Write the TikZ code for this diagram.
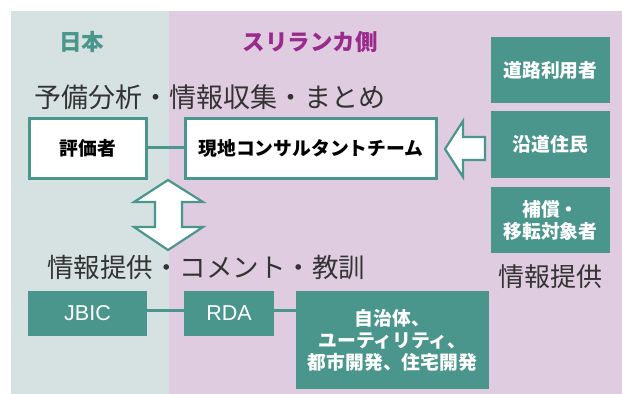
\documentclass[tikz,border=0pt]{standalone}
\usepackage{fontspec}
\setmainfont{Noto Sans CJK JP}
\newfontfamily\latinfont{Liberation Sans}
\definecolor{teal1}{HTML}{4A968C}
\definecolor{bgL}{HTML}{D6E2E2}
\definecolor{bgR}{HTML}{E0CCE0}
\definecolor{purp}{HTML}{9A2A8C}
\definecolor{dark}{HTML}{333333}
\tikzset{
  wbox/.style={draw=teal1, line width=2.8pt, fill=white, inner sep=0pt, text=black,
    font=\fontsize{18.8}{22}\selectfont\bfseries, align=center},
  tbox/.style={fill=teal1, inner sep=0pt, text=white,
    font=\fontsize{18.8}{22}\selectfont\bfseries, align=center},
  lbox/.style={tbox, font=\latinfont\fontsize{21.5}{24}\selectfont},
  bigtxt/.style={text=dark, inner sep=0pt, font=\fontsize{26.5}{30}\selectfont},
  head/.style={inner sep=0pt, font=\fontsize{22.5}{26}\selectfont\bfseries},
  conn/.style={draw=teal1, line width=3.5pt},
  hollow/.style={draw=teal1, line width=2.2pt, fill=white, line join=miter}
}
\begin{document}
\begin{tikzpicture}[x=1pt,y=-1pt]
\useasboundingbox (0,0) rectangle (622,394);
\fill[bgL] (11,11) rectangle (169,394);
\fill[bgR] (169,11) rectangle (622,394);

\node[head, text=teal1] (jp) at (82,42) {日本};
\node[head, text=purp] (sl) at (310,42) {スリランカ側};

\node[bigtxt, anchor=west, font=\fontsize{27}{30}\selectfont] (t1) at (34,97) {予備分析・情報収集・まとめ};
\node[bigtxt, anchor=west] (t2) at (47,267) {情報提供・コメント・教訓};
\node[bigtxt, font=\fontsize{26}{30}\selectfont] (t3) at (550,277) {情報提供};

\node[wbox, minimum width=117pt, minimum height=60pt] (hyoka) at (88,148.5) {評価者};
\node[wbox, minimum width=251pt, minimum height=60pt] (genchi) at (311,148.5) {現地コンサルタントチーム};
\draw[conn] ([yshift=1pt]hyoka.east) -- ([yshift=1pt]genchi.west);

\node[tbox, minimum width=119pt, minimum height=66pt] (douro) at (550.5,70) {道路利用者};
\node[tbox, minimum width=119pt, minimum height=67pt] (endou) at (550.5,144.5) {沿道住民};
\node[tbox, minimum width=119pt, minimum height=66pt] (hosho) at (550.5,220) {補償・\\移転対象者};

% hollow left arrow
\draw[hollow] (445,149) -- (463,121) -- (463,137) -- (485,137) -- (485,160) -- (463,160) -- (463,177) -- cycle;

% hollow double arrow
\draw[hollow] (168,180) -- (203,202) -- (182,202) -- (182,227) -- (203,227) -- (168,250)
  -- (134,227) -- (155,227) -- (155,202) -- (134,202) -- cycle;

\node[lbox, minimum width=119pt, minimum height=45pt] (jbic) at (87.5,313.5) {JBIC};
\node[lbox, minimum width=90pt, minimum height=45pt] (rda) at (229,313.5) {RDA};
\node[tbox, minimum width=193pt, minimum height=98pt] (jichi) at (392.5,340) {自治体、\\ユーティリティ、\\都市開発、住宅開発};
\draw[conn] ([yshift=3pt]jbic.east) -- ([yshift=3pt]rda.west);
\draw[conn] ([yshift=3pt]rda.east) -- ([yshift=3pt]rda.east -| jichi.west);
\end{tikzpicture}
\end{document}
